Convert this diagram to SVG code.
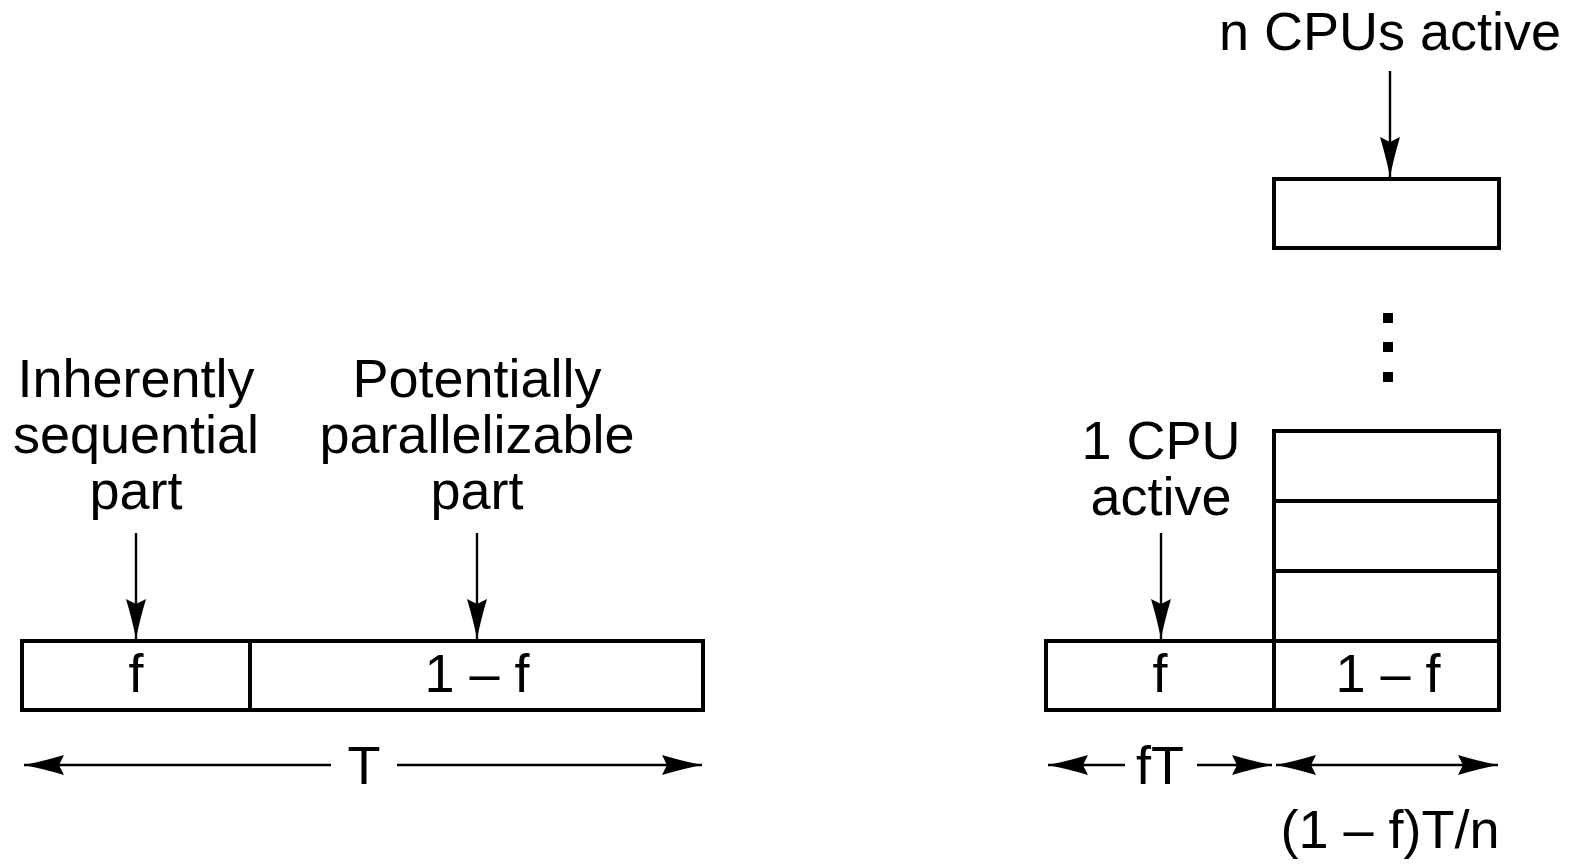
<svg xmlns="http://www.w3.org/2000/svg" width="1573" height="864" viewBox="0 0 1573 864">
  <style>
    text { font-family: "Liberation Sans", Arial, sans-serif; font-size: 54px; fill: #000; text-anchor: middle; }
    .box { fill: #fff; stroke: #000; stroke-width: 4; }
    .wire { fill: none; stroke: #000; stroke-width: 2.4; }
  </style>
  <defs>
    <marker id="head" markerUnits="userSpaceOnUse" viewBox="-42 -12 44 24" refX="0" refY="0" markerWidth="44" markerHeight="24" orient="auto-start-reverse">
      <path d="M0,0 Q-18,-3.5 -40,-10 L-35,0 L-40,10 Q-18,3.5 0,0 Z" fill="#000"/>
    </marker>
  </defs>

  <!-- single-processor timeline -->
  <g id="seq-label">
    <text x="136" y="397">Inherently</text>
    <text x="136" y="453">sequential</text>
    <text x="136" y="509">part</text>
  </g>
  <g id="par-label">
    <text x="477" y="397">Potentially</text>
    <text x="477" y="453">parallelizable</text>
    <text x="477" y="509">part</text>
  </g>
  <g id="seq-part">
    <rect class="box" x="22" y="641" width="228" height="69"/>
    <text x="136" y="692">f</text>
  </g>
  <g id="par-part">
    <rect class="box" x="250" y="641" width="453" height="69"/>
    <text x="477" y="692">1 – f</text>
  </g>
  <g id="total-time">
    <text x="364" y="784">T</text>
  </g>

  <!-- multiprocessor timeline -->
  <g id="n-cpu-label">
    <text x="1390" y="50">n CPUs active</text>
  </g>
  <g id="one-cpu-label">
    <text x="1161" y="459">1 CPU</text>
    <text x="1161" y="515">active</text>
  </g>
  <g id="cpu-n">
    <rect class="box" x="1274" y="179" width="225" height="69"/>
  </g>
  <g id="ellipsis">
    <rect x="1383" y="313" width="10" height="10"/>
    <rect x="1383" y="342" width="10" height="10"/>
    <rect x="1383" y="372" width="10" height="10"/>
  </g>
  <g id="cpu-stack">
    <rect class="box" x="1274" y="431" width="225" height="70"/>
    <rect class="box" x="1274" y="501" width="225" height="70"/>
    <rect class="box" x="1274" y="571" width="225" height="70"/>
  </g>
  <g id="seq-part-n">
    <rect class="box" x="1046" y="641" width="228" height="69"/>
    <text x="1160" y="692">f</text>
  </g>
  <g id="par-part-n">
    <rect class="box" x="1274" y="641" width="225" height="69"/>
    <text x="1388" y="692">1 – f</text>
  </g>
  <g id="seq-time">
    <text x="1160" y="784">fT</text>
  </g>
  <g id="par-time">
    <text x="1390" y="848">(1 – f)T/n</text>
  </g>

  <g id="connectors">
    <line class="wire" x1="136" y1="533" x2="136" y2="639" marker-end="url(#head)"/>
    <line class="wire" x1="477" y1="533" x2="477" y2="639" marker-end="url(#head)"/>
    <line class="wire" x1="1161" y1="533" x2="1161" y2="639" marker-end="url(#head)"/>
    <line class="wire" x1="1390" y1="71" x2="1390" y2="177" marker-end="url(#head)"/>
    <line class="wire" x1="331" y1="765" x2="24" y2="765" marker-end="url(#head)"/>
    <line class="wire" x1="397" y1="765" x2="702" y2="765" marker-end="url(#head)"/>
    <line class="wire" x1="1125" y1="765" x2="1048" y2="765" marker-end="url(#head)"/>
    <line class="wire" x1="1197" y1="765" x2="1272" y2="765" marker-end="url(#head)"/>
    <line class="wire" x1="1276" y1="765" x2="1498" y2="765" marker-start="url(#head)" marker-end="url(#head)"/>
  </g>
</svg>
